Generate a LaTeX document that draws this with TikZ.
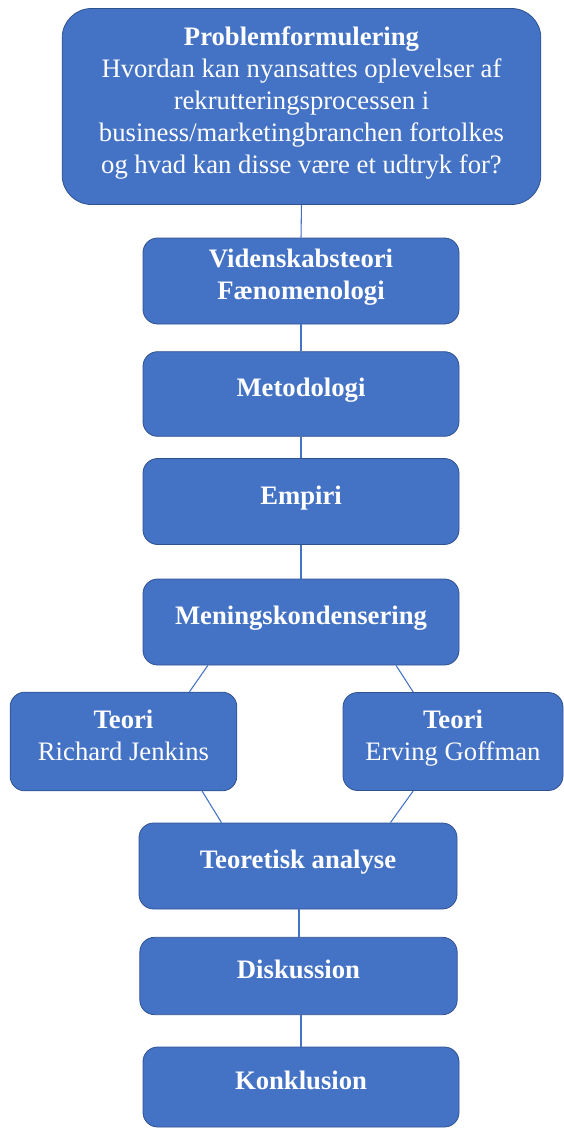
\documentclass[tikz,border=0pt]{standalone}
\usepackage{fontspec}
\setmainfont{Liberation Serif}
\usepackage{xcolor}
\usepackage{tikz}
\usetikzlibrary{calc}
\definecolor{boxblue}{HTML}{4472C4}
\definecolor{boxedge}{HTML}{2F528F}

\tikzset{
  stepbox/.style={draw=boxedge,line width=0.6pt,fill=boxblue,text=white,
    rounded corners=11pt,align=center,inner sep=0pt,text depth=10pt,
    font=\fontsize{20}{24}\selectfont},
  link/.style={draw=boxblue,line width=0.8pt},
}

\begin{document}
\begin{tikzpicture}[x=0.75pt,y=-0.75pt]
  \useasboundingbox (0,0) rectangle (564,1129);
  % boxes
  \node[stepbox,rounded corners=22pt,minimum width=359pt,minimum height=147pt] (prob) at (301.5,106.5)
    {\textbf{Problemformulering}\\Hvordan kan nyansattes oplevelser af\\rekrutteringsprocessen i\\business/marketingbranchen fortolkes\\og hvad kan disse være et udtryk for?};
  \node[stepbox,minimum width=237pt,minimum height=64.5pt] (vid) at (301,281)
    {\textbf{Videnskabsteori}\\\textbf{Fænomenologi}};
  \node[stepbox,minimum width=237pt,minimum height=63.5pt] (met) at (301,394) {\textbf{Metodologi}};
  \node[stepbox,minimum width=237pt,minimum height=64.5pt] (emp) at (301,501.5) {\textbf{Empiri}};
  \node[stepbox,minimum width=237pt,minimum height=64.5pt] (men) at (301,622) {\textbf{Meningskondensering}};
  \node[stepbox,minimum width=170pt,minimum height=74pt] (jen) at (123.5,741.5)
    {\textbf{Teori}\\Richard Jenkins};
  \node[stepbox,minimum width=165pt,minimum height=73.5pt] (gof) at (453,741.5)
    {\textbf{Teori}\\Erving Goffman};
  \node[stepbox,minimum width=238.5pt,minimum height=64.5pt] (teo) at (298,866) {\textbf{Teoretisk analyse}};
  \node[stepbox,minimum width=238pt,minimum height=58pt] (dis) at (298.5,976) {\textbf{Diskussion}};
  \node[stepbox,minimum width=237pt,minimum height=60pt] (kon) at (301,1087) {\textbf{Konklusion}};
  % connectors
  \draw[link] (prob.south) -- (vid.north);
  \draw[link] (vid) -- (met);
  \draw[link] (met) -- (emp);
  \draw[link] (emp) -- (men);
  \draw[link] ($(men.south west)!0.206!(men.south east)$) -- ($(jen.north west)!0.79!(jen.north east)$);
  \draw[link] ($(men.south west)!0.80!(men.south east)$) -- ($(gof.north west)!0.32!(gof.north east)$);
  \draw[link] ($(jen.south west)!0.846!(jen.south east)$) -- ($(teo.north west)!0.26!(teo.north east)$);
  \draw[link] ($(gof.south west)!0.32!(gof.south east)$) -- ($(teo.north west)!0.79!(teo.north east)$);
  \draw[link] (teo.south -| 299,0) -- (dis.north -| 299,0);
  \draw[link] (dis.south -| 301,0) -- (kon.north -| 301,0);
\end{tikzpicture}
\end{document}
